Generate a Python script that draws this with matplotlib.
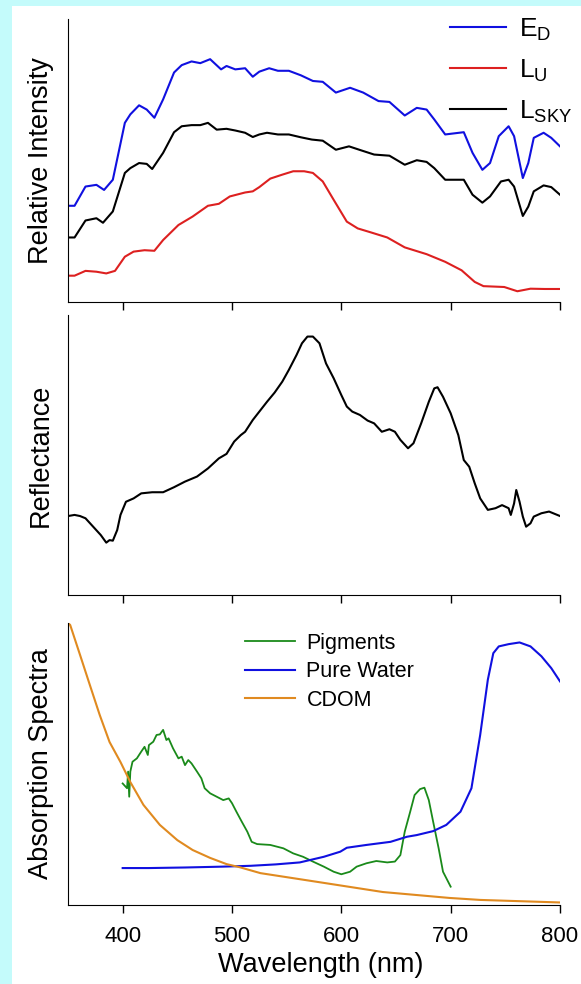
import matplotlib.pyplot as plt
import matplotlib.patches as patches

plt.rcParams['font.family'] = ['Liberation Sans', 'DejaVu Sans']
plt.rcParams['mathtext.fontset'] = 'custom'
plt.rcParams['mathtext.rm'] = 'Liberation Sans'

# --- panel 1: relative intensity ---
ed_nm = [350, 356, 366, 376, 383, 391, 402, 407, 415, 422, 429, 437, 447, 454, 463, 471, 480, 490,
         495, 503, 512, 519, 525, 534, 542, 552, 563, 574, 583, 595, 608, 620, 634, 644, 658, 669,
         678, 685, 695, 712, 720, 729, 736, 744, 753, 758, 766, 771, 776, 785, 792, 800]
ed_val = [34.0, 34.0, 40.8, 41.4, 39.6, 43.2, 63.3, 66.3, 69.5, 68.0, 65.1, 71.6, 81.1, 83.7, 85.0,
          84.4, 85.8, 82.2, 83.4, 82.2, 82.6, 79.6, 81.4, 82.6, 81.7, 81.7, 80.1, 78.1, 77.8, 74.0,
          75.7, 74.0, 71.0, 70.7, 65.9, 68.6, 68.0, 64.5, 59.2, 60.0, 52.7, 46.7, 49.1, 58.6, 62.1,
          58.6, 43.8, 49.1, 58.0, 59.8, 58.0, 55.0]

sky_nm = [350, 356, 366, 376, 382, 391, 402, 407, 415, 422, 427, 437, 447, 454, 463, 471, 478, 486,
          495, 503, 512, 519, 525, 532, 542, 552, 563, 573, 583, 595, 607, 618, 630, 644, 658, 669,
          678, 685, 695, 712, 720, 729, 736, 746, 753, 758, 766, 771, 776, 785, 792, 800]
sky_val = [22.8, 22.8, 28.8, 29.6, 28.0, 32.0, 45.6, 47.3, 49.1, 48.8, 47.0, 52.7, 60.0, 62.1, 62.5,
           62.5, 63.3, 60.9, 61.2, 60.6, 59.8, 58.3, 59.2, 59.8, 59.2, 59.2, 58.2, 57.4, 57.0, 53.8,
           55.0, 53.6, 52.1, 51.7, 48.5, 50.1, 49.5, 47.3, 43.2, 43.2, 37.9, 35.1, 37.3, 42.6, 43.2,
           40.8, 30.4, 33.7, 39.1, 41.2, 40.6, 37.9]

lu_nm = [350, 356, 366, 376, 385, 393, 402, 410, 420, 429, 437, 451, 464, 478, 488, 498, 512, 519,
         525, 535, 546, 556, 566, 574, 583, 593, 605, 615, 627, 642, 658, 678, 695, 710, 722, 730,
         749, 761, 773, 786, 800]
lu_val = [9.3, 9.3, 11.0, 10.7, 10.1, 11.0, 16.0, 17.8, 18.3, 18.1, 21.9, 27.2, 30.2, 34.0, 34.7,
          37.3, 38.7, 39.1, 40.6, 43.6, 45.0, 46.2, 46.2, 45.6, 42.6, 36.1, 28.4, 26.0, 24.6, 22.8,
          19.3, 16.9, 14.2, 11.2, 7.1, 5.6, 5.3, 3.8, 4.7, 4.6, 4.6]

# --- panel 2: reflectance ---
refl_nm = [350, 356, 361, 366, 373, 380, 385, 388, 391, 395, 398, 403, 410, 417, 427, 437, 447, 457,
           468, 478, 488, 495, 502, 508, 512, 519, 525, 532, 539, 546, 552, 559, 564, 569, 574, 580,
           586, 593, 600, 605, 610, 617, 624, 630, 637, 644, 649, 654, 661, 666, 673, 680, 685, 688,
           693, 700, 707, 712, 717, 722, 727, 734, 741, 747, 753, 755, 758, 760, 763, 766, 769, 773,
           776, 783, 790, 800]
refl_val = [28.2, 28.6, 28.2, 27.4, 24.4, 21.4, 18.7, 19.6, 19.4, 23.2, 28.6, 33.3, 34.5, 36.3, 36.7,
            36.7, 38.5, 40.5, 42.3, 45.2, 48.8, 50.4, 54.8, 57.1, 58.3, 62.5, 65.5, 69.0, 72.3, 76.2,
            80.4, 85.7, 89.9, 92.3, 92.3, 89.9, 82.7, 77.4, 71.4, 67.3, 65.5, 64.3, 62.3, 61.3, 58.3,
            59.2, 58.3, 55.4, 52.4, 54.2, 61.3, 69.0, 73.8, 74.2, 70.8, 64.9, 57.1, 48.2, 45.8, 39.9,
            34.5, 30.4, 31.0, 32.1, 31.0, 28.6, 32.7, 37.5, 33.3, 28.0, 24.4, 25.6, 28.0, 29.2, 29.8,
            28.2]

# --- panel 3: absorption spectra ---
pig_nm = [400, 404, 405, 406, 407, 409, 413, 417, 420, 423, 424, 428, 431, 434, 437, 440, 442, 446,
          451, 454, 457, 460, 463, 468, 472, 475, 480, 486, 492, 497, 500, 504, 509, 514, 518, 523,
          535, 547, 556, 565, 574, 584, 593, 600, 608, 614, 623, 632, 642, 649, 654, 658, 663, 667,
          672, 676, 680, 684, 689, 693, 700]
pig_val = [43.1, 41.4, 47.3, 38.4, 47.3, 50.8, 52.0, 54.4, 56.1, 53.2, 56.7, 57.9, 60.3, 60.5, 62.1,
           58.5, 59.1, 55.6, 52.0, 52.6, 49.6, 51.4, 50.2, 47.3, 44.9, 41.4, 39.6, 38.4, 37.2, 37.8,
           36.1, 33.1, 29.5, 26.0, 22.4, 21.6, 21.3, 20.1, 18.3, 17.1, 15.4, 13.6, 11.8, 10.9, 11.8,
           13.6, 14.8, 15.6, 15.1, 15.4, 17.7, 26.0, 33.1, 39.0, 41.1, 41.6, 37.2, 29.5, 20.1, 11.8,
           6.5]

water_nm = [400, 424, 457, 491, 517, 540, 562, 584, 599, 605, 623, 645, 660, 669, 684, 696, 709, 719,
            727, 734, 739, 744, 753, 763, 773, 783, 792, 800]
water_val = [13.1, 13.1, 13.3, 13.6, 13.9, 14.4, 15.1, 17.1, 18.9, 20.3, 21.3, 22.4, 24.2, 24.8,
             26.2, 28.4, 33.1, 41.4, 60.3, 79.9, 89.3, 91.7, 92.5, 93.1, 91.7, 88.2, 84.0, 79.3]

cdom_nm = [350, 352, 361, 370, 379, 388, 398, 407, 419, 434, 450, 464, 480, 495, 507, 526, 578, 638,
           699, 727, 800]
cdom_val = [100, 99.3, 88.7, 78.0, 67.4, 57.8, 50.7, 43.6, 35.5, 28.4, 23.0, 19.5, 16.7, 14.5, 13.4,
            11.3, 8.2, 4.6, 2.5, 1.8, 0.9]

xticks = [400, 500, 600, 700, 800]

fig = plt.figure(figsize=(5.81, 9.84), dpi=100, facecolor='#c4fbfb')
fig.patches.append(patches.Rectangle((12 / 581, 0), 1, 1 - 6 / 984, transform=fig.transFigure,
                                     facecolor='white', edgecolor='none', zorder=-1))

left, width = 68 / 581, 492 / 581
ax1 = fig.add_axes([left, 1 - 302 / 984, width, 283 / 984])
ax2 = fig.add_axes([left, 1 - 595 / 984, width, 280 / 984])
ax3 = fig.add_axes([left, 1 - 905 / 984, width, 282 / 984])

ax1.plot(ed_nm, ed_val, color='#1010e0', lw=1.5, label=r'E$_\mathregular{D}$')
ax1.plot(lu_nm, lu_val, color='#dd2020', lw=1.5, label=r'L$_\mathregular{U}$')
ax1.plot(sky_nm, sky_val, color='black', lw=1.5, label=r'L$_\mathregular{SKY}$')
ax1.legend(loc='upper right', bbox_to_anchor=(1.025, 1.01), frameon=False, fontsize=19,
           handlelength=2.1, labelspacing=0.55, handletextpad=0.5, borderaxespad=0, borderpad=0)
ax1.set_ylabel('Relative Intensity', fontsize=19.5, labelpad=10)

ax2.plot(refl_nm, refl_val, color='black', lw=1.5)
ax2.set_ylabel('Reflectance', fontsize=19.5, labelpad=10)

ax3.plot(pig_nm, pig_val, color='#1a8a1a', lw=1.3, label='Pigments')
ax3.plot(water_nm, water_val, color='#1010e0', lw=1.5, label='Pure Water')
ax3.plot(cdom_nm, cdom_val, color='#e08a20', lw=1.5, label='CDOM')
ax3.legend(loc='upper left', bbox_to_anchor=(0.36, 0.965), frameon=False, fontsize=15.5,
           handlelength=2.3, labelspacing=0.35, handletextpad=0.55, borderaxespad=0, borderpad=0)
ax3.set_ylabel('Absorption Spectra', fontsize=19.5, labelpad=10)
ax3.set_xlabel('Wavelength (nm)', fontsize=19.5, labelpad=8)
ax3.xaxis.set_label_coords(0.514, -0.165)

for ax in (ax1, ax2, ax3):
    ax.set_xlim(350, 800)
    ax.set_ylim(0, 100)
    ax.set_xticks(xticks)
    ax.set_yticks([])
    ax.spines['top'].set_visible(False)
    ax.spines['right'].set_visible(False)
    ax.tick_params(axis='x', direction='out', length=6, width=1, labelsize=16, pad=9)
    ax.set_facecolor('white')
for ax in (ax1, ax2):
    ax.tick_params(axis='x', labelbottom=False)

fig.savefig('out.png', dpi=100, facecolor=fig.get_facecolor())
